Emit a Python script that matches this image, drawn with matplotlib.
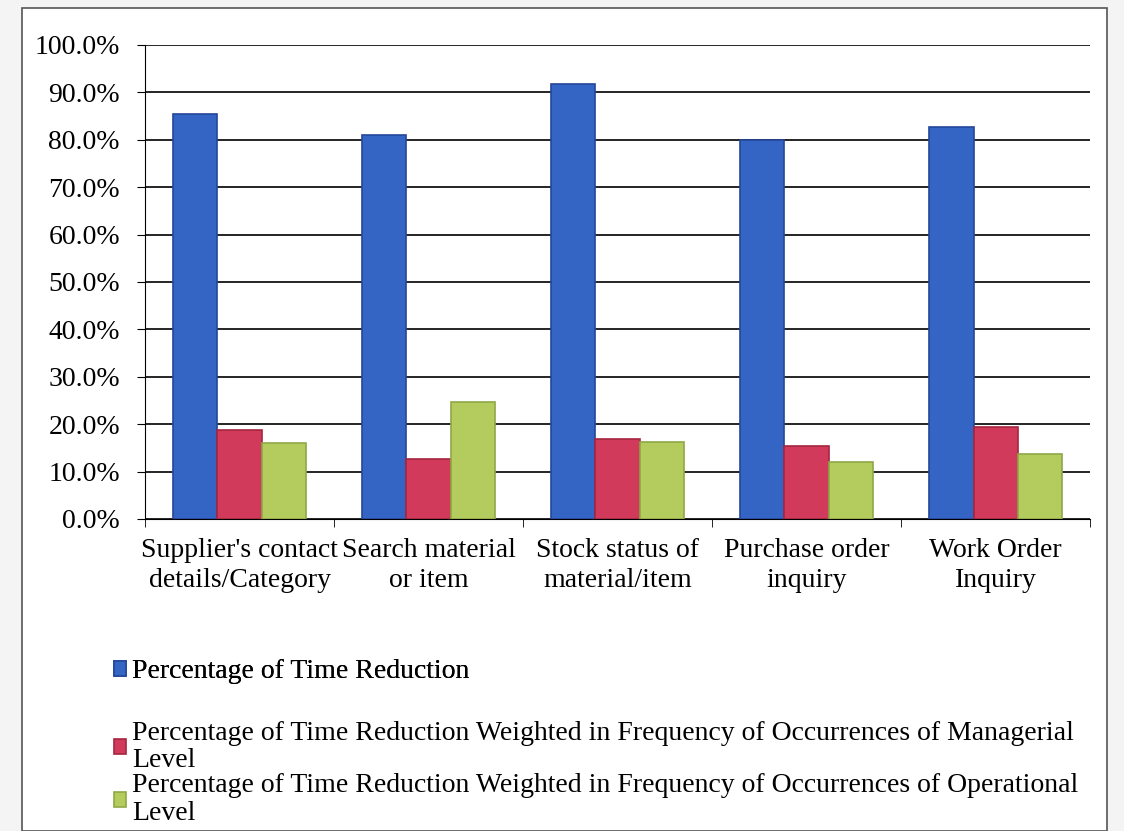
import matplotlib.pyplot as plt
import matplotlib.patches as mpatches
import numpy as np

# values (percent)
categories = ["Supplier's contact\ndetails/Category", "Search material\nor item",
              "Stock status of\nmaterial/item", "Purchase order\ninquiry", "Work Order\nInquiry"]
time_reduction = [85.4, 81.0, 91.7, 80.0, 82.6]
weighted_managerial = [18.7, 12.6, 16.9, 15.4, 19.4]
weighted_operational = [16.1, 24.6, 16.3, 12.0, 13.6]

series_labels = [
    "Percentage of Time Reduction",
    "Percentage of Time Reduction Weighted in Frequency of Occurrences of Managerial\nLevel",
    "Percentage of Time Reduction Weighted in Frequency of Occurrences of Operational\nLevel",
]
yticks = [0, 10, 20, 30, 40, 50, 60, 70, 80, 90, 100]

colors = ['#3565C4', '#D23A5C', '#B4CC5E']
edges = ['#24479A', '#A52640', '#8FA845']

plt.rcParams['font.family'] = ['Liberation Serif', 'DejaVu Serif']

fig = plt.figure(figsize=(11.24, 8.31), dpi=100)
fig.patch.set_facecolor('#f4f4f4')
# outer chart frame
frame = mpatches.Rectangle((0.02, 0.0), 0.965, 0.99, transform=fig.transFigure,
                           facecolor='white', edgecolor='#555555', linewidth=1.2, zorder=-10)
fig.patches.append(frame)

ax = fig.add_axes([0.129, 0.3755, 0.841, 0.5705])
ax.set_facecolor('white')

x = np.arange(len(categories))
w = 0.235
all_series = [time_reduction, weighted_managerial, weighted_operational]
for i, vals in enumerate(all_series):
    ax.bar(x + (i - 1) * w, vals, w, color=colors[i], edgecolor=edges[i],
           linewidth=1.2, zorder=3)

ax.set_xlim(-0.5, len(categories) - 0.5)
ax.set_ylim(0, 100)
ax.set_yticks(yticks)
ax.set_yticklabels([f"{v:.1f}%" for v in yticks], fontsize=20)
ax.yaxis.grid(True, color='black', linewidth=1.2, zorder=1)
ax.set_axisbelow(True)

ax.set_xticks(x)
ax.set_xticklabels(categories, fontsize=20, linespacing=1.25)
ax.tick_params(axis='x', which='major', length=0, pad=14)
ax.set_xticks(np.arange(-0.5, len(categories)), minor=True)
ax.tick_params(axis='x', which='minor', length=6, direction='out', color='black')
ax.tick_params(axis='y', length=6, direction='out', color='black', pad=12)

for s in ['top', 'right']:
    ax.spines[s].set_visible(False)
ax.spines['left'].set_color('black')
ax.spines['bottom'].set_color('black')

handles = [mpatches.Patch(facecolor=colors[i], edgecolor=edges[i], linewidth=1.2)
           for i in range(3)]
leg1 = fig.legend(handles[:1], series_labels[:1], loc='upper left',
                  bbox_to_anchor=(0.079, 0.237), frameon=False, fontsize=20,
                  handlelength=0.45, handleheight=0.45, handletextpad=0.2)
fig.add_artist(leg1)
leg2 = fig.legend(handles[1:], series_labels[1:], loc='upper left',
                  bbox_to_anchor=(0.079, 0.163), frameon=False, fontsize=20,
                  handlelength=0.45, handleheight=0.45, handletextpad=0.2,
                  labelspacing=0.0)
for t in leg2.get_texts():
    t.set_linespacing(1.15)

fig.savefig('out.png', dpi=100, facecolor=fig.get_facecolor())
